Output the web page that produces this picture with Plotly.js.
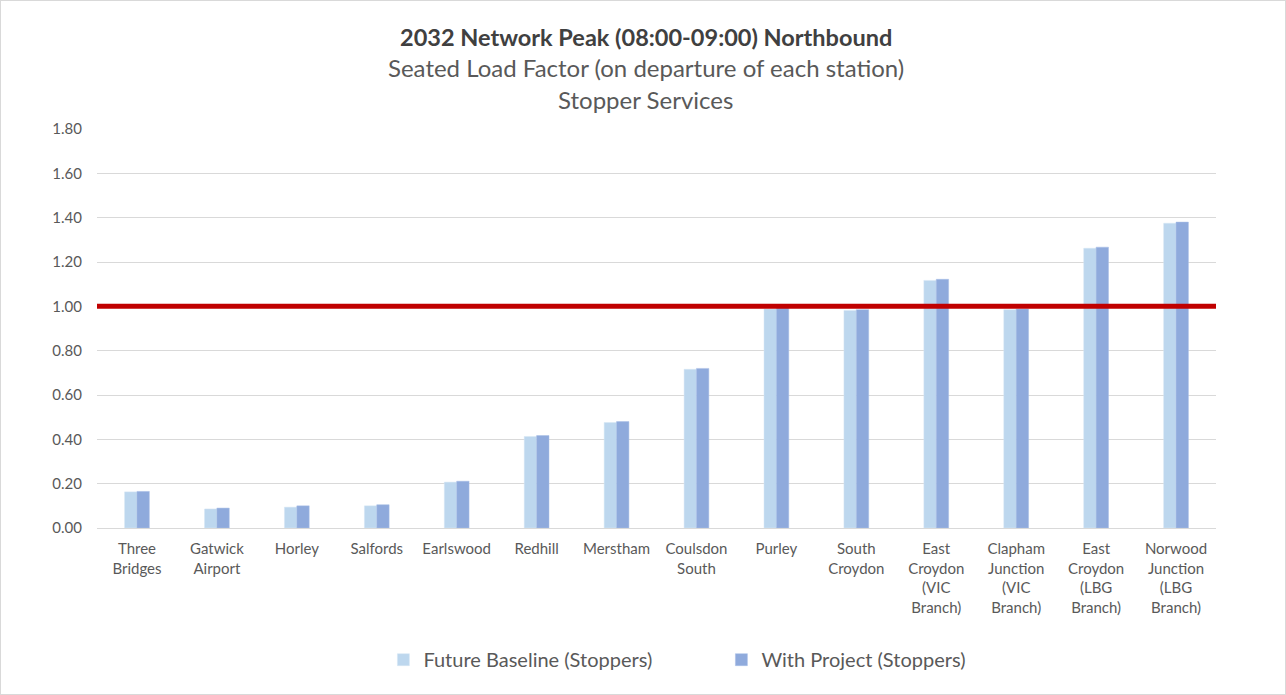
<!DOCTYPE html>
<html>
<head>
<meta charset="utf-8">
<script src="https://cdn.plot.ly/plotly-3.0.1.min.js"></script>
<style>
html,body{margin:0;padding:0;background:#fff;}
#chart{width:1284px;height:693px;border:1px solid #d9d9d9;}
</style>
</head>
<body>
<div id="chart"></div>
<script>
const stations = [
  "Three<br>Bridges", "Gatwick<br>Airport", "Horley", "Salfords", "Earlswood",
  "Redhill", "Merstham", "Coulsdon<br>South", "Purley", "South<br>Croydon",
  "East<br>Croydon<br>(VIC<br>Branch)", "Clapham<br>Junction<br>(VIC<br>Branch)",
  "East<br>Croydon<br>(LBG<br>Branch)", "Norwood<br>Junction<br>(LBG<br>Branch)"
];
const futureBaseline = [0.163, 0.086, 0.094, 0.100, 0.207, 0.413, 0.476, 0.716, 0.988, 0.981, 1.117, 0.985, 1.262, 1.375];
const withProject    = [0.165, 0.090, 0.100, 0.105, 0.211, 0.417, 0.480, 0.720, 0.995, 0.985, 1.122, 0.988, 1.267, 1.380];
const threshold = 1.0;
const seriesNames = ["Future Baseline (Stoppers)", "With Project (Stoppers)"];
const yTicks = [0, 0.2, 0.4, 0.6, 0.8, 1.0, 1.2, 1.4, 1.6, 1.8];

const FONT = "Lato, 'Open Sans', sans-serif";
const traces = [
  {type:"bar", name:seriesNames[0], x:stations, y:futureBaseline,
   marker:{color:"#BDD7EE", line:{color:"#D6E6F5", width:0.5}}},
  {type:"bar", name:seriesNames[1], x:stations, y:withProject,
   marker:{color:"#8FAADC", line:{color:"#A9BFE6", width:0.5}}}
];

const layout = {
  width:1284, height:693,
  margin:{l:96, r:69, t:128, b:166},
  paper_bgcolor:"#fff", plot_bgcolor:"#fff",
  font:{family:FONT, color:"#595959", size:15},
  barmode:"group", bargap:0.69, bargroupgap:0,
  showlegend:true,
  legend:{orientation:"h", x:0.558, xanchor:"center", y:-0.33, yanchor:"middle",
          font:{size:20, color:"#595959"}, entrywidth:293, itemwidth:20},
  xaxis:{type:"category", tickfont:{size:15, color:"#595959"}, showgrid:false,
         showline:false, ticks:"", automargin:false, ticklabelstandoff:10},
  yaxis:{range:[0,1.8], tickvals:yTicks, tickformat:".2f", showgrid:true,
         gridcolor:"#d9d9d9", gridwidth:1, zeroline:true, zerolinecolor:"#d9d9d9",
         zerolinewidth:1, showline:false, ticks:"", ticklen:0, ticklabelstandoff:14,
         tickfont:{size:15, color:"#595959"}, automargin:false},
  shapes:[{type:"line", xref:"paper", x0:0, x1:1, yref:"y", y0:threshold, y1:threshold,
           line:{color:"#C00000", width:5}}],
  annotations:[
    {text:"<b>2032 Network Peak (08:00-09:00) Northbound</b>", xref:"paper", yref:"paper",
     x:0.4906, y:1.231, xanchor:"center", yanchor:"middle", showarrow:false,
     font:{size:23.5, color:"#404040", family:FONT}},
    {text:"Seated Load Factor (on departure of each station)", xref:"paper", yref:"paper",
     x:0.4906, y:1.153, xanchor:"center", yanchor:"middle", showarrow:false,
     font:{size:24, color:"#595959", family:FONT}},
    {text:"Stopper Services", xref:"paper", yref:"paper",
     x:0.4906, y:1.073, xanchor:"center", yanchor:"middle", showarrow:false,
     font:{size:24, color:"#595959", family:FONT}}
  ]
};

Plotly.newPlot("chart", traces, layout, {displayModeBar:false, staticPlot:true});
</script>
</body>
</html>
